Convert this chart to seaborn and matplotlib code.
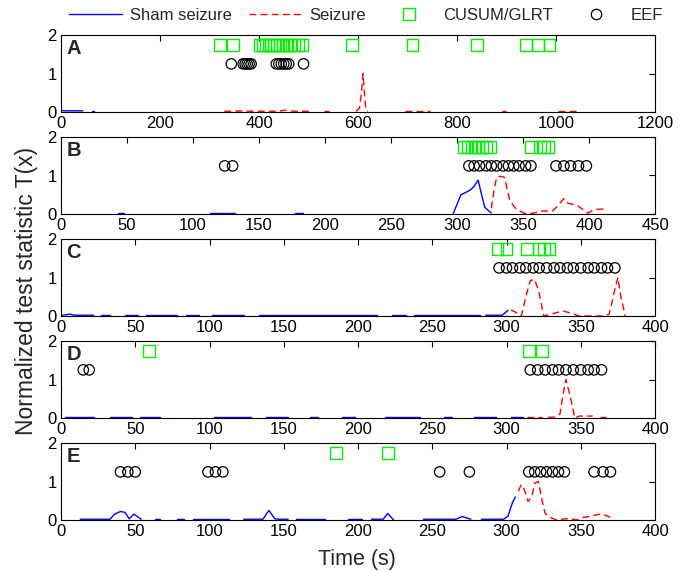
import numpy as np
import pandas as pd
import matplotlib
matplotlib.use("Agg")
import matplotlib.pyplot as plt
from matplotlib.lines import Line2D
import seaborn as sns

nan = np.nan

# ---------------- data ----------------
panel_labels = ["A", "B", "C", "D", "E"]
x_limits = [1200, 450, 400, 400, 400]
x_steps = [200, 50, 50, 50, 50]
legend_labels = ["Sham seizure", "Seizure", "CUSUM/GLRT", "EEF"]
ylabel_text = "Normalized test statistic T(x)"
xlabel_text = "Time (s)"

# Panel A
a_blue_x = [0, 5, 15, 30, 44, nan, 62, 67]
a_blue_y = [0.05, 0.03, 0.03, 0.03, 0.03, nan, 0.03, 0.03]
a_red_x = [330, 350, 370, 380, 400, 420, 440, 453, 470, 490, 506, nan, 532, 542, nan,
           596, 603, 607, 610, 613, 616, 620, nan, 695, 710, 722, 745, nan, 890, 898, nan,
           1005, 1020, 1035, 1048]
a_red_y = [0.02, 0.02, 0.03, 0.02, 0.02, 0.02, 0.02, 0.05, 0.02, 0.02, 0.02, nan, 0.02, 0.02, nan,
           0.02, 0.1, 0.5, 1.0, 0.5, 0.05, 0.02, nan, 0.02, 0.02, 0.02, 0.02, nan, 0.02, 0.02, nan,
           0.02, 0.02, 0.02, 0.02]
a_sq = [321, 347, 401, 407, 413, 419, 424, 430, 436, 442, 449, 456, 463, 470, 478, 488,
        588, 710, 840, 940, 963, 987]
a_circ = [344, 368, 372, 376, 380, 384, 435, 440, 445, 450, 455, 460, 490]

# Panel B
b_blue_x = [43, 48, nan, 113, 122, 132, nan, 177, 183, nan,
            297, 300, 303, 306, 310, 313, 316, 319, 321, 324, 326]
b_blue_y = [0.02, 0.02, nan, 0.02, 0.02, 0.02, nan, 0.02, 0.02, nan,
            0.0, 0.25, 0.5, 0.55, 0.62, 0.72, 0.88, 0.45, 0.18, 0.08, 0.03]
b_red_x = [326, 328, 330, 333, 336, 338, 340, 344, 348, 351, 355, 358, 362, 366, 372,
           376, 381, 384, 388, 392, 396, 399, 402, 406, 411]
b_red_y = [0.15, 0.6, 0.95, 0.98, 0.95, 0.65, 0.35, 0.16, 0.07, 0.02, 0.02, 0.02, 0.07, 0.08, 0.07,
           0.2, 0.4, 0.28, 0.25, 0.2, 0.1, 0.02, 0.08, 0.12, 0.13]
b_sq = [305, 308, 311, 314, 316, 319, 322, 325, 356, 363, 366, 369]
b_circ = [124, 130, 309, 313, 317, 322, 326, 330, 335, 339, 343, 347, 352, 356,
          375, 381, 386, 392, 398]

# Panel C
c_blue_x = [1, 3, 6, 9, 14, 22, nan, 27, 33, nan, 43, 52, nan, 57, 78, nan, 84, 93, nan,
            102, 123, nan, 133, 213, nan, 223, 232, nan, 238, 282, nan, 286, 297, 299, 301]
c_blue_y = [0.02, 0.03, 0.05, 0.02, 0.02, 0.02, nan, 0.02, 0.02, nan, 0.02, 0.02, nan, 0.02, 0.02, nan,
            0.02, 0.02, nan, 0.02, 0.02, nan, 0.02, 0.02, nan, 0.02, 0.02, nan, 0.02, 0.02, nan,
            0.02, 0.02, 0.08, 0.15]
c_red_x = [303, 306, 310, 313, 316, 319, 322, 325, 329, 333, 338, 344, 349, 356, 364,
           369, 371, 373, 375, 377, 380]
c_red_y = [0.16, 0.1, 0.0, 0.5, 0.92, 0.95, 0.6, 0.0, 0.04, 0.08, 0.13, 0.07, 0.0, 0.0, 0.0,
           0.04, 0.35, 0.7, 1.0, 0.5, 0.0]
c_sq = [294, 300, 314, 322, 325, 329]
c_circ = [295, 300, 304, 309, 313, 318, 322, 327, 332, 336, 341, 345, 350, 355, 359, 364, 368, 373]

# Panel D
d_blue_x = [3, 22, nan, 33, 48, nan, 53, 67, nan, 103, 128, nan, 138, 153, nan, 168, 173, nan,
            189, 198, nan, 218, 242, nan, 258, 263, nan, 278, 293, nan, 303, 311]
d_blue_y = [0.02, 0.02, nan, 0.02, 0.02, nan, 0.02, 0.02, nan, 0.02, 0.02, nan, 0.02, 0.02, nan,
            0.02, 0.02, nan, 0.02, 0.02, nan, 0.02, 0.02, nan, 0.02, 0.02, nan, 0.02, 0.02, nan,
            0.02, 0.02]
d_red_x = [314, 318, 324, nan, 328, 332, 336, 338, 340, 343, 346, 349, 353, 358, nan, 363, 367]
d_red_y = [0.02, 0.02, 0.02, nan, 0.02, 0.02, 0.1, 0.6, 1.0, 0.55, 0.0, 0.05, 0.05, 0.05, nan,
           0.02, 0.02]
d_sq = [59, 315, 324]
d_circ = [15, 19, 316, 321, 326, 331, 335, 340, 345, 350, 355, 359, 364]

# Panel E
e_blue_x = [13, 20, 33, 36, 40, 43, 46, 49, 51, 54, nan, 63, 67, nan, 78, 83, nan, 89, 113, nan,
            123, 136, 140, 144, 147, 153, nan, 158, 178, nan, 193, 203, nan, 209, 217, 220, 224, nan,
            244, 266, 270, 276, nan, 283, 298, 301, 304, 306]
e_blue_y = [0.02, 0.02, 0.02, 0.15, 0.22, 0.2, 0.03, 0.15, 0.1, 0.02, nan, 0.02, 0.02, nan, 0.02, 0.02, nan,
            0.02, 0.02, nan, 0.02, 0.02, 0.25, 0.03, 0.02, 0.02, nan, 0.02, 0.02, nan, 0.02, 0.02, nan,
            0.02, 0.02, 0.17, 0.0, nan, 0.02, 0.02, 0.09, 0.02, nan, 0.02, 0.02, 0.1, 0.45, 0.6]
e_red_x = [308, 310, 312, 314.5, 317, 319, 321.5, 324, 326, 329, 334, 337, 343, 347, 352,
           356, 360, 364, 370]
e_red_y = [0.75, 0.92, 0.79, 0.48, 0.6, 0.96, 1.0, 0.5, 0.17, 0.07, 0.0, 0.02, 0.04, 0.0, 0.07,
           0.09, 0.13, 0.16, 0.07]
e_sq = [185, 220]
e_circ = [40, 45, 50, 99, 104, 109, 255, 275, 315, 319, 323, 327, 331, 335, 339, 359, 365, 370]

sq_level = 1.75
circ_level = 1.25

panels = [
    (a_blue_x, a_blue_y, a_red_x, a_red_y, a_sq, a_circ),
    (b_blue_x, b_blue_y, b_red_x, b_red_y, b_sq, b_circ),
    (c_blue_x, c_blue_y, c_red_x, c_red_y, c_sq, c_circ),
    (d_blue_x, d_blue_y, d_red_x, d_red_y, d_sq, d_circ),
    (e_blue_x, e_blue_y, e_red_x, e_red_y, e_sq, e_circ),
]


def to_segments(xs, ys):
    seg = 0
    rows = []
    for x, y in zip(xs, ys):
        if np.isnan(x) or np.isnan(y):
            seg += 1
            continue
        rows.append((x, y, seg))
    return pd.DataFrame(rows, columns=["x", "y", "seg"])


# ---------------- style ----------------
sns.set_style("white")
plt.rcParams["font.family"] = ["Liberation Sans", "DejaVu Sans"]
plt.rcParams["axes.linewidth"] = 0.8

BLUE = "#0000ff"
RED = "#ff0000"
GREEN = "#00ee00"
BLACK = "#000000"

W, H = 699, 571
fig = plt.figure(figsize=(W / 100, H / 100), dpi=100)

left_px, right_px = 61, 655
tops_px = [35, 137, 239, 341, 443]
h_px = 77

axes = []
for i, (lab, xmax, step, data) in enumerate(zip(panel_labels, x_limits, x_steps, panels)):
    bx, by, rx, ry, sq, circ = data
    top = tops_px[i]
    ax = fig.add_axes([left_px / W, 1 - (top + h_px) / H, (right_px - left_px) / W, h_px / H])
    axes.append(ax)

    dfb = to_segments(bx, by)
    dfr = to_segments(rx, ry)
    sns.lineplot(data=dfb, x="x", y="y", units="seg", estimator=None, sort=False,
                 color=BLUE, lw=1.0, ax=ax, legend=False)
    sns.lineplot(data=dfr, x="x", y="y", units="seg", estimator=None, sort=False,
                 color=RED, lw=1.0, linestyle=(0, (5, 3)), ax=ax, legend=False)
    sns.scatterplot(x=sq, y=[sq_level] * len(sq), marker="s", s=72, facecolors="none",
                    edgecolors=GREEN, linewidths=1.0, ax=ax, legend=False, zorder=5)
    sns.scatterplot(x=circ, y=[circ_level] * len(circ), marker="o", s=56, facecolors="none",
                    edgecolors=BLACK, linewidths=0.9, ax=ax, legend=False, zorder=5)

    ax.set_xlim(0, xmax)
    ax.set_ylim(0, 2)
    ax.set_xticks(np.arange(0, xmax + 1, step))
    ax.set_yticks([0, 1, 2])
    ax.set_xlabel("")
    ax.set_ylabel("")
    ax.tick_params(direction="in", top=True, right=True, length=4, width=0.8,
                   labelsize=12, pad=3, colors=BLACK)
    for sp in ax.spines.values():
        sp.set_visible(True)
        sp.set_color(BLACK)
    ax.text(0.009, 0.83, lab, transform=ax.transAxes, ha="left", va="center",
            fontsize=14.5, fontweight="bold")

fig.text(27 / W, 1 - 291 / H, ylabel_text, rotation=90, ha="center", va="center", fontsize=16.5)
fig.text(357 / W, 1 - 559 / H, xlabel_text, ha="center", va="center", fontsize=15.5)

handles = [
    Line2D([], [], color=BLUE, lw=1.0),
    Line2D([], [], color=RED, lw=1.0, linestyle=(0, (5, 3))),
    Line2D([], [], color=GREEN, marker="s", markersize=8.5, markerfacecolor="none",
           markeredgewidth=1.0, linestyle="none"),
    Line2D([], [], color=BLACK, marker="o", markersize=7.5, markerfacecolor="none",
           markeredgewidth=0.9, linestyle="none"),
]
fig.legend(handles, legend_labels, loc="center", bbox_to_anchor=(366 / W, 1 - 15 / H),
           ncol=4, frameon=False, fontsize=12, handlelength=3.2, handletextpad=0.45,
           columnspacing=1.0, borderaxespad=0)

fig.savefig("out.png", dpi=100, facecolor="white")
